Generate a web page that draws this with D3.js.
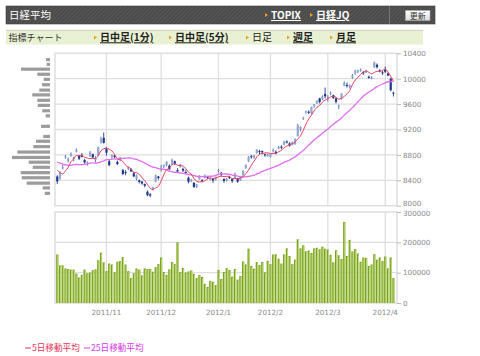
<!DOCTYPE html>
<html><head><meta charset="utf-8">
<script src="https://cdn.jsdelivr.net/npm/d3@7"></script>
<style>html,body{margin:0;padding:0;background:#fff}svg{display:block}</style>
</head><body>
<svg id="c" width="480" height="356"></svg>
<script>
const dates = [
"2011-10-05","2011-10-06","2011-10-07","2011-10-11","2011-10-12","2011-10-13","2011-10-14","2011-10-17","2011-10-18","2011-10-19",
"2011-10-20","2011-10-21","2011-10-24","2011-10-25","2011-10-26","2011-10-27","2011-10-28","2011-10-31",
"2011-11-01","2011-11-02","2011-11-04","2011-11-07","2011-11-08","2011-11-09","2011-11-10","2011-11-11","2011-11-14","2011-11-15",
"2011-11-16","2011-11-17","2011-11-18","2011-11-21","2011-11-22","2011-11-24","2011-11-25","2011-11-28","2011-11-29","2011-11-30",
"2011-12-01","2011-12-02","2011-12-05","2011-12-06","2011-12-07","2011-12-08","2011-12-09","2011-12-12","2011-12-13","2011-12-14",
"2011-12-15","2011-12-16","2011-12-19","2011-12-20","2011-12-21","2011-12-22","2011-12-26","2011-12-27","2011-12-28","2011-12-29","2011-12-30",
"2012-01-04","2012-01-05","2012-01-06","2012-01-10","2012-01-11","2012-01-12","2012-01-13","2012-01-16","2012-01-17","2012-01-18",
"2012-01-19","2012-01-20","2012-01-23","2012-01-24","2012-01-25","2012-01-26","2012-01-27","2012-01-30","2012-01-31",
"2012-02-01","2012-02-02","2012-02-03","2012-02-06","2012-02-07","2012-02-08","2012-02-09","2012-02-10","2012-02-13","2012-02-14",
"2012-02-15","2012-02-16","2012-02-17","2012-02-20","2012-02-21","2012-02-22","2012-02-23","2012-02-24","2012-02-27","2012-02-28","2012-02-29",
"2012-03-01","2012-03-02","2012-03-05","2012-03-06","2012-03-07","2012-03-08","2012-03-09","2012-03-12","2012-03-13","2012-03-14",
"2012-03-15","2012-03-16","2012-03-19","2012-03-21","2012-03-22","2012-03-23","2012-03-26","2012-03-27","2012-03-28","2012-03-29","2012-03-30",
"2012-04-02","2012-04-03","2012-04-04","2012-04-05"];

const open = [
8460,8430,8600,8760,8700,8790,8730,8850,8790,8800,
8720,8660,8780,8810,8720,8790,9000,9070,8900,8700,
8770,8790,8690,8720,8560,8530,8580,8570,8510,8420,
8400,8380,8340,8220,8180,8250,8380,8460,8560,8620,
8640,8630,8650,8700,8560,8620,8580,8530,8440,8400,
8360,8300,8420,8400,8440,8460,8420,8420,8420,8550,
8520,8420,8400,8450,8420,8440,8420,8400,8480,8600,
8700,8780,8760,8830,8860,8860,8810,8780,8770,8860,
8850,8900,8930,8960,9010,8980,8960,8970,9100,9200,
9370,9480,9480,9460,9570,9620,9690,9680,9760,9690,
9760,9740,9690,9560,9680,9890,9900,9870,10020,10090,
10110,10140,10100,10100,10030,10000,10180,10220,10130,10100,
10140,10080,10000,9780];
const high = [
8480,8540,8640,8800,8760,8840,8770,8900,8800,8830,
8740,8700,8860,8820,8780,8930,9086,9152,8920,8720,
8810,8800,8710,8770,8580,8560,8620,8590,8530,8490,
8410,8390,8350,8240,8200,8300,8490,8470,8640,8650,
8700,8650,8740,8710,8590,8660,8600,8560,8460,8420,
8370,8340,8480,8420,8490,8470,8440,8430,8460,8580,
8530,8430,8440,8470,8430,8520,8430,8470,8560,8650,
8780,8800,8800,8890,8880,8870,8820,8820,8820,8900,
8870,8940,8950,9020,9030,9000,9010,9060,9290,9250,
9400,9500,9500,9560,9600,9660,9700,9740,9860,9740,
9800,9750,9710,9590,9770,9960,9940,9910,10070,10140,
10140,10160,10120,10140,10050,10040,10270,10240,10150,10120,
10190,10100,10010,9795];
const low = [
8343,8410,8570,8740,8680,8770,8700,8840,8720,8760,
8660,8630,8770,8740,8680,8780,8980,8980,8790,8620,
8740,8740,8640,8700,8480,8480,8560,8530,8450,8400,
8350,8330,8290,8150,8135,8240,8370,8410,8540,8590,
8620,8560,8640,8640,8520,8600,8530,8500,8350,8370,
8280,8280,8410,8370,8430,8420,8400,8360,8400,8520,
8460,8360,8380,8420,8360,8430,8360,8390,8470,8580,
8690,8740,8740,8820,8810,8810,8770,8770,8760,8840,
8810,8890,8890,8950,8980,8930,8950,8960,9090,9170,
9350,9450,9440,9440,9540,9600,9610,9660,9690,9640,
9740,9680,9610,9520,9670,9880,9860,9850,10000,10060,
10090,10110,10060,10090,10000,9990,10170,10160,10100,10060,
10090,10040,9800,9720];
const close = [
8382,8522,8605,8773,8738,8823,8747,8879,8741,8772,
8682,8678,8843,8762,8748,8926,9050,8988,8835,8640,
8801,8767,8655,8755,8500,8514,8603,8541,8463,8479,
8374,8349,8314,8165,8160,8287,8477,8434,8597,8643,
8695,8575,8722,8664,8536,8653,8553,8519,8377,8401,
8296,8336,8459,8395,8479,8440,8423,8398,8455,8560,
8488,8390,8422,8448,8385,8500,8378,8466,8550,8639,
8766,8765,8785,8883,8849,8841,8793,8802,8809,8876,
8831,8929,8917,9015,9002,8947,8999,9052,9260,9238,
9384,9485,9463,9554,9595,9647,9633,9722,9723,9707,
9777,9698,9637,9576,9768,9929,9889,9899,10050,10123,
10129,10141,10086,10127,10011,10018,10255,10182,10115,10083,
10109,10050,9819,9767];
const volume = [
160000,124000,124000,114000,112000,110000,110000,97000,84000,93000,
110000,98000,100000,108000,111000,141000,166000,134000,105000,130000,
127000,101000,136000,138000,151000,127000,105000,82000,98000,114000,
110000,91000,114000,112000,112000,103000,118000,128000,150000,102000,
93000,111000,135000,128000,200000,102000,115000,100000,104000,107000,
96000,82000,92000,86000,63000,53000,73000,70000,59000,109000,
79000,102000,115000,109000,87000,112000,77000,89000,137000,127000,
179000,122000,113000,135000,125000,135000,101000,139000,128000,160000,
160000,146000,130000,160000,180000,155000,128000,143000,210000,180000,
190000,170000,173000,165000,180000,182000,177000,186000,179000,176000,
159000,134000,174000,157000,145000,267000,155000,208000,170000,178000,
163000,136000,150000,149000,122000,127000,161000,143000,150000,138000,
153000,114000,150000,82000];
const ma5 = [
8557,8521,8502,8548,8604,8692,8737,8792,8786,8792,
8764,8750,8743,8747,8743,8791,8866,8895,8909,8888,
8863,8806,8740,8724,8696,8638,8605,8583,8524,8520,
8492,8441,8396,8336,8272,8255,8281,8305,8391,8488,
8569,8589,8646,8660,8638,8630,8626,8585,8528,8501,
8429,8386,8374,8377,8393,8422,8439,8427,8439,8455,
8465,8458,8463,8462,8427,8429,8427,8435,8456,8507,
8560,8637,8701,8768,8810,8825,8830,8834,8819,8824,
8822,8849,8872,8914,8939,8962,8976,9003,9052,9099,
9187,9284,9366,9425,9496,9549,9578,9630,9664,9686,
9712,9725,9708,9679,9691,9722,9760,9812,9907,9978,
10018,10068,10106,10121,10099,10077,10099,10119,10116,10131,
10149,10108,10035,9966];
const ma25 = [
8688,8670,8656,8645,8636,8638,8644,8649,8647,8648,
8654,8657,8670,8673,8669,8677,8689,8706,8725,8726,
8733,8736,8734,8743,8744,8750,8753,8750,8738,8728,
8710,8694,8671,8648,8624,8608,8600,8583,8577,8573,
8563,8544,8534,8527,8523,8517,8508,8503,8488,8484,
8475,8464,8461,8458,8458,8461,8464,8467,8479,8495,
8503,8500,8499,8493,8483,8475,8467,8457,8452,8456,
8461,8469,8480,8500,8518,8540,8558,8572,8589,8604,
8620,8640,8661,8683,8701,8720,8744,8769,8802,8836,
8871,8915,8955,8995,9034,9069,9104,9141,9175,9209,
9246,9283,9316,9347,9382,9426,9465,9504,9545,9590,
9637,9683,9725,9759,9790,9815,9846,9875,9897,9917,
9935,9952,9956,9958];
const priceTicks = [8000,8400,8800,9200,9600,10000,10400];
const volumeTicks = [0,100000,200000,300000];
const monthTickDates = ["2011-11-01","2011-12-01","2012-01-04","2012-02-01","2012-03-01","2012-04-02"];
const monthTickLabels = ["2011/11","2011/12","2012/1","2012/2","2012/3","2012/4"];
const profilePrices = [10300,10225,10150,10070,9990,9905,9820,9745,9660,9580,9495,9415,9330,9250,9170,9090,9015,8930,8845,8760,8685,8605,8520,8440,8355,8280,8195];
const profileVolumes = [400,330,2900,1270,630,800,1070,1770,1270,1230,770,430,0,900,0,670,1400,1670,3270,3800,2130,1730,2930,2830,2330,730,530];
const titleText = "日経平均";
const headerLinks = ["TOPIX","日経JQ"];
const subTitle = "指標チャート";
const navItems = [{t:"日中足(1分)",link:true},{t:"日中足(5分)",link:true},{t:"日足",link:false},{t:"週足",link:true},{t:"月足",link:true}];
const legendItems = [{t:"5日移動平均",c:"#e4335a"},{t:"25日移動平均",c:"#d63ae8"}];

const svg = d3.select("#c");
const CJK = "'Noto Sans CJK JP','Noto Sans',sans-serif";
const NUM = "'DejaVu Sans',sans-serif";

// ---------- header ----------
const defs = svg.append("defs");
const pat = defs.append("pattern").attr("id","stripe").attr("width",3).attr("height",3)
  .attr("patternUnits","userSpaceOnUse").attr("patternTransform","rotate(45)");
pat.append("rect").attr("width",3).attr("height",3).attr("fill","#4a4a4a");
pat.append("rect").attr("width",1.2).attr("height",3).attr("fill","#575757");
const btnGrad = defs.append("linearGradient").attr("id","btn").attr("x1",0).attr("y1",0).attr("x2",0).attr("y2",1);
btnGrad.append("stop").attr("offset","0").attr("stop-color","#ffffff");
btnGrad.append("stop").attr("offset","1").attr("stop-color","#dcdcdc");

svg.append("rect").attr("x",6).attr("y",6).attr("width",429).attr("height",18)
  .attr("fill","url(#stripe)").attr("stroke","#3c3c3c").attr("stroke-width",0.6);
svg.append("line").attr("x1",389.5).attr("x2",389.5).attr("y1",6).attr("y2",24).attr("stroke","#777");
svg.append("text").attr("x",9).attr("y",19).attr("fill","#fff").attr("font-family",CJK)
  .attr("font-size",10.5).text(titleText);
const hx = [265, 310];
headerLinks.forEach((t,i)=>{
  svg.append("path").attr("d",`M${hx[i]},13 L${hx[i]+3},15 L${hx[i]},17 Z`).attr("fill","#f0a020");
  svg.append("text").attr("x",hx[i]+6).attr("y",19).attr("fill","#fff").attr("font-family",CJK)
    .attr("font-size",10).attr("font-weight","bold").attr("text-decoration","underline").text(t);
});
svg.append("rect").attr("x",405.5).attr("y",10.5).attr("width",24.5).attr("height",10)
  .attr("fill","url(#btn)").attr("stroke","#aaa").attr("stroke-width",0.6);
svg.append("text").attr("x",417.7).attr("y",18.6).attr("text-anchor","middle").attr("fill","#333")
  .attr("font-family",CJK).attr("font-size",8).text("更新");

// ---------- nav bar ----------
svg.append("rect").attr("x",6).attr("y",30).attr("width",417).attr("height",14.5).attr("fill","#e9f1d3");
svg.append("line").attr("x1",6).attr("x2",423).attr("y1",30.3).attr("y2",30.3).attr("stroke","#c8ccc0").attr("stroke-width",0.8);
svg.append("text").attr("x",8.5).attr("y",41).attr("fill","#333").attr("font-family",CJK)
  .attr("font-size",9).text(subTitle);
const nx = [94,169,246,287,330];
navItems.forEach((d,i)=>{
  svg.append("path").attr("d",`M${nx[i]},35.5 L${nx[i]+3},37.5 L${nx[i]},39.5 Z`).attr("fill","#f0a020");
  const t = svg.append("text").attr("x",nx[i]+6).attr("y",41.3).attr("fill","#222").attr("font-family",CJK)
    .attr("font-size",10).text(d.t);
  if (d.link) t.attr("font-weight","bold").attr("text-decoration","underline");
});

// ---------- scales ----------
const L = 55, R = 397;
const x = d3.scaleBand().domain(dates).range([55.9, 394.8]).padding(0);
const cx = d => x(d) + x.bandwidth()/2;
const yP = d3.scaleLinear().domain([8000,10400]).range([205.7,53.3]);
const yV = d3.scaleLinear().domain([0,300000]).range([303,212]);
const grid = "#dedede";

function panel(y0,y1){
  svg.append("rect").attr("x",L).attr("y",y0).attr("width",R-L).attr("height",y1-y0)
    .attr("fill","#fff").attr("stroke",grid).attr("stroke-width",1.5);
}
panel(yP(10400), yP(8000));
panel(yV(300000), yV(0));

// vertical month grid
monthTickDates.forEach(d=>{
  [[yP(10400),yP(8000)],[yV(300000),yV(0)]].forEach(([a,b])=>{
    svg.append("line").attr("x1",cx(d)).attr("x2",cx(d)).attr("y1",a).attr("y2",b)
      .attr("stroke",grid).attr("stroke-width",1.3);
  });
});
// horizontal grid + right axis
const gP = svg.append("g");
priceTicks.forEach(v=>{
  if (v>8000 && v<10400) gP.append("line").attr("x1",L).attr("x2",R).attr("y1",yP(v)).attr("y2",yP(v))
    .attr("stroke",grid).attr("stroke-width",1.3);
});
const axP = d3.axisRight(yP).tickValues(priceTicks).tickSize(4).tickPadding(2).tickFormat(d3.format("d"));
const gax = svg.append("g").attr("transform",`translate(${R},0)`).call(axP);
const gV = svg.append("g");
volumeTicks.forEach(v=>{
  if (v>0 && v<300000) gV.append("line").attr("x1",L).attr("x2",R).attr("y1",yV(v)).attr("y2",yV(v))
    .attr("stroke",grid).attr("stroke-width",1.3);
});
const axV = d3.axisRight(yV).tickValues(volumeTicks).tickSize(4).tickPadding(2).tickFormat(d3.format("d"));
const gav = svg.append("g").attr("transform",`translate(${R},0)`).call(axV);
[gax,gav].forEach(g=>{
  g.select(".domain").remove();
  g.selectAll(".tick line").attr("stroke","#bbb");
  g.selectAll(".tick text").attr("fill","#888").attr("font-family",NUM).attr("font-size",7.2);
});
// keep the bottom price label clear of the top volume label
gax.selectAll(".tick text").filter(d=>d===8000).attr("dy","-0.05em");
gav.selectAll(".tick text").filter(d=>d===300000).attr("dy","0.55em");
// month labels
const axX = d3.axisBottom(x).tickValues(monthTickDates).tickSize(0).tickPadding(5)
  .tickFormat((d,i)=>monthTickLabels[i]);
const gx = svg.append("g").attr("transform",`translate(0,${yV(0)+2})`).call(axX);
gx.select(".domain").remove();
gx.selectAll(".tick text").attr("fill","#888").attr("font-family",NUM).attr("font-size",7.2);

// ---------- volume bars ----------
svg.append("g").selectAll("rect").data(dates).join("rect")
  .attr("x",d=>cx(d)-1.1).attr("width",2.2)
  .attr("y",(d,i)=>yV(volume[i])).attr("height",(d,i)=>yV(0)-yV(volume[i]))
  .attr("fill","#7aa31b");
svg.append("g").selectAll("rect").data(dates).join("rect")
  .attr("x",d=>cx(d)+0.1).attr("width",1)
  .attr("y",(d,i)=>yV(volume[i])+0.8).attr("height",(d,i)=>Math.max(0,yV(0)-yV(volume[i])-0.8))
  .attr("fill","#c3dc85");

// ---------- price profile ----------
const pLen = d3.scaleLinear().domain([0,3800]).range([0,38]);
svg.append("g").selectAll("rect").data(profilePrices).join("rect")
  .attr("x",(d,i)=>50-pLen(profileVolumes[i])).attr("width",(d,i)=>pLen(profileVolumes[i]))
  .attr("y",d=>yP(d)-1.6).attr("height",3.2).attr("fill","#9c9c9c");

// ---------- candles ----------
const gc = svg.append("g");
dates.forEach((d,i)=>{
  const up = close[i] >= open[i];
  gc.append("line").attr("x1",cx(d)).attr("x2",cx(d)).attr("y1",yP(high[i])).attr("y2",yP(low[i]))
    .attr("stroke", up ? "#4a66a8" : "#1d3a8a").attr("stroke-width",0.9);
  const top = yP(Math.max(open[i],close[i])), bot = yP(Math.min(open[i],close[i]));
  gc.append("rect").attr("x",cx(d)-1.1).attr("width",2.2).attr("y",top).attr("height",Math.max(1,bot-top))
    .attr("fill", up ? "#93a8d3" : "#1d3a8a");
});

// ---------- moving averages ----------
const line = arr => d3.line().x((d,i)=>cx(dates[i])).y(d=>yP(d)).curve(d3.curveMonotoneX)(arr);
svg.append("path").attr("d",line(ma25)).attr("fill","none").attr("stroke","#e06cf0").attr("stroke-width",1.3);
svg.append("path").attr("d",line(ma5)).attr("fill","none").attr("stroke","#e8405e").attr("stroke-width",1);

// ---------- legend ----------
const lx = [25, 84];
legendItems.forEach((d,i)=>{
  svg.append("line").attr("x1",lx[i]).attr("x2",lx[i]+6).attr("y1",348).attr("y2",348)
    .attr("stroke",d.c).attr("stroke-width",1);
  svg.append("text").attr("x",lx[i]+7).attr("y",351.3).attr("fill",d.c).attr("font-family",CJK)
    .attr("font-size",8.6).text(d.t);
});
</script>
</body></html>
